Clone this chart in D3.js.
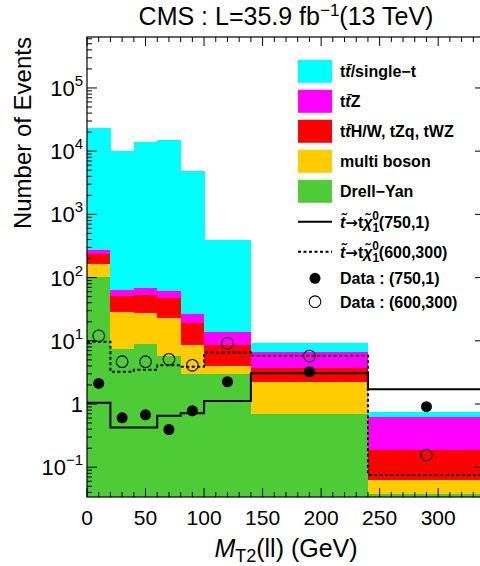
<!DOCTYPE html>
<html>
<head>
<meta charset="utf-8">
<script src="https://cdn.jsdelivr.net/npm/d3@7"></script>
<style>
  body { margin: 0; background: #fff; }
  svg { font-family: "Liberation Sans", Arial, sans-serif; }
</style>
</head>
<body>
<svg id="chart" width="480" height="566"></svg>
<script>
// --- data ---
var binEdges = [0, 20, 40, 60, 80, 100, 140, 240, 340];
var binCenters = [10, 30, 50, 70, 90, 120, 190, 290];

// stacked backgrounds, bottom to top
var drellYan   = [103, 7.6, 9.15, 5.75, 3.06, 3.0, 0.71, 0.039];
var multiBoson = [65, 21.3, 18.7, 17.5, 5.74, 1.12, 1.54, 0.024];
var ttHW       = [69, 22.7, 25.2, 24.8, 10.5, 4.5, 1.5, 0.129];
var ttZ        = [44, 13.7, 16.1, 14.1, 7.9, 5.3, 3.12, 0.452];
var ttSingleT  = [22700, 10000, 13900, 15000, 4840, 380, 2.28, 0.099];

// signal hypotheses
var sig750  = [1.045, 0.425, 0.425, 0.655, 0.713, 1.12, 3.06, 1.71];
var sig600  = [9.7, 3.24, 3.48, 4.12, 3.89, 6.52, 5.78, 0.075];

// data points
var data750 = [2.12, 0.605, 0.674, 0.395, 0.782, 2.25, 3.24, 0.909];
var data600 = [12.0, 4.68, 4.68, 5.09, 4.09, 9.15, 5.75, 0.156];

var yTicks = [0.1, 1, 10, 100, 1000, 10000, 100000];
var xTicks = [0, 50, 100, 150, 200, 250, 300];

var bgKeys = ["dy", "mb", "tth", "ttz", "tt"];
var bgColors = {dy: "#4dcc37", mb: "#ffcc00", tth: "#ff0000", ttz: "#ff00ff", tt: "#00ffff"};

// --- layout ---
var pL = 87, pR = 485, pT = 37, pB = 497;
var yMin = 0.0338, yMax = 6.4e5;
var svg = d3.select("#chart");

var x = d3.scaleLinear().domain([0, 340]).range([pL, pR]);
var y = d3.scaleLog().domain([yMin, yMax]).range([pB, pT]);

svg.append("defs").append("clipPath").attr("id", "plotclip")
  .append("rect").attr("x", pL).attr("y", pT)
  .attr("width", pR - pL).attr("height", pB - pT);

var plot = svg.append("g").attr("clip-path", "url(#plotclip)");

// build stack table
var table = binCenters.map(function(c, i) {
  return {i: i, dy: drellYan[i], mb: multiBoson[i], tth: ttHW[i], ttz: ttZ[i], tt: ttSingleT[i]};
});
var stacked = d3.stack().keys(bgKeys)(table);

stacked.forEach(function(layer) {
  plot.append("g")
    .attr("fill", bgColors[layer.key])
    .attr("shape-rendering", "crispEdges")
    .selectAll("rect")
    .data(layer)
    .enter()
    .append("rect")
      .attr("x", function(d) { return x(binEdges[d.data.i]); })
      .attr("width", function(d) { return x(binEdges[d.data.i + 1]) - x(binEdges[d.data.i]) + 0.5; })
      .attr("y", function(d) { return y(d[1]); })
      .attr("height", function(d) { return y(Math.max(d[0], yMin)) - y(d[1]) + 0.5; });
});

// signal step lines
function stepPoints(vals) {
  var pts = vals.map(function(v, i) { return [binEdges[i], v]; });
  pts.push([binEdges[binEdges.length - 1], vals[vals.length - 1]]);
  return pts;
}
var stepLine = d3.line()
  .x(function(d) { return x(d[0]); })
  .y(function(d) { return y(d[1]); })
  .curve(d3.curveStepAfter);

plot.append("path").datum(stepPoints(sig750))
  .attr("d", stepLine).attr("fill", "none")
  .attr("stroke", "#000").attr("stroke-width", 2);

plot.append("path").datum(stepPoints(sig600))
  .attr("d", stepLine).attr("fill", "none")
  .attr("stroke", "#000").attr("stroke-width", 2)
  .attr("stroke-dasharray", "3,2.5");

// data markers
plot.selectAll(".d750").data(data750).enter().append("circle")
  .attr("class", "d750")
  .attr("cx", function(d, i) { return x(binCenters[i]); })
  .attr("cy", function(d) { return y(d); })
  .attr("r", 5.5).attr("fill", "#000");

plot.selectAll(".d600").data(data600).enter().append("circle")
  .attr("class", "d600")
  .attr("cx", function(d, i) { return x(binCenters[i]); })
  .attr("cy", function(d) { return y(d); })
  .attr("r", 5.8).attr("fill", "none")
  .attr("stroke", "#000").attr("stroke-width", 1.1);

// --- frame and ticks ---
var axes = svg.append("g").attr("stroke", "#000").attr("stroke-width", 1);
axes.append("rect").attr("x", pL).attr("y", pT)
  .attr("width", pR - pL).attr("height", pB - pT)
  .attr("fill", "none").attr("stroke-width", 1.2);

var xMinor = d3.range(0, 341, 10);
xMinor.forEach(function(v) {
  var len = (v % 50 === 0) ? 9 : 5;
  axes.append("line").attr("x1", x(v)).attr("x2", x(v)).attr("y1", pB).attr("y2", pB - len);
  axes.append("line").attr("x1", x(v)).attr("x2", x(v)).attr("y1", pT).attr("y2", pT + len);
});

var yMinor = [];
for (var e = -2; e <= 5; e++) {
  for (var m = 1; m <= 9; m++) {
    var v = m * Math.pow(10, e);
    if (v >= yMin && v <= yMax) yMinor.push({v: v, major: m === 1});
  }
}
yMinor.forEach(function(t) {
  var len = t.major ? 10 : 5;
  axes.append("line").attr("x1", pL).attr("x2", pL + len).attr("y1", y(t.v)).attr("y2", y(t.v));
  axes.append("line").attr("x1", pR).attr("x2", pR - len).attr("y1", y(t.v)).attr("y2", y(t.v));
});

// x tick labels
svg.append("g").selectAll("text").data(xTicks).enter().append("text")
  .attr("x", function(d) { return x(d); })
  .attr("y", 525)
  .attr("text-anchor", "middle")
  .attr("font-size", 21)
  .text(function(d) { return d; });

// y tick labels
var yLab = svg.append("g").attr("font-size", 22).attr("text-anchor", "end");
yTicks.forEach(function(v) {
  var exp = Math.round(Math.log10(v));
  var t = yLab.append("text").attr("x", 83).attr("y", y(v) + 8);
  if (exp === 0) { t.text("1"); return; }
  t.append("tspan").text("10");
  t.append("tspan").attr("dy", -10).attr("font-size", 15)
    .text(exp < 0 ? "\u2212" + (-exp) : exp);
});

// titles
var title = svg.append("text").attr("x", (pL + pR) / 2).attr("y", 25)
  .attr("text-anchor", "middle").attr("font-size", 25);
title.append("tspan").text("CMS : L=35.9 fb");
title.append("tspan").attr("dy", -9).attr("font-size", 17).text("\u22121");
title.append("tspan").attr("dy", 9).text("(13 TeV)");

svg.append("text")
  .attr("transform", "translate(31," + pT + ") rotate(-90)")
  .attr("text-anchor", "end").attr("font-size", 24)
  .text("Number of Events");

var xt = svg.append("text").attr("x", (pL + pR) / 2).attr("y", 557)
  .attr("text-anchor", "middle").attr("font-size", 25);
xt.append("tspan").attr("font-style", "italic").text("M");
xt.append("tspan").attr("dy", 5).attr("font-size", 18).text("T2");
xt.append("tspan").attr("dy", -5).text("(ll) (GeV)");

// --- legend ---
var leg = svg.append("g").attr("font-size", 16).attr("font-weight", "bold");
var boxEntries = [
  {key: "tt", cy: 71.3},
  {key: "ttz", cy: 101.3},
  {key: "tth", cy: 131.3},
  {key: "mb", cy: 161.3},
  {key: "dy", cy: 191.3}
];
boxEntries.forEach(function(b) {
  leg.append("rect").attr("x", 298).attr("y", b.cy - 11.5)
    .attr("width", 34).attr("height", 23).attr("fill", bgColors[b.key]);
});

function ttbar(t) {
  t.append("tspan").text("t");
  t.append("tspan").attr("font-style", "italic").text("t\u0304");
}
var l1 = leg.append("text").attr("x", 340).attr("y", 71.3 + 6);
ttbar(l1); l1.append("tspan").text("/single\u2212t");
var l2 = leg.append("text").attr("x", 340).attr("y", 101.3 + 6);
ttbar(l2); l2.append("tspan").text("Z");
var l3 = leg.append("text").attr("x", 340).attr("y", 131.3 + 6);
ttbar(l3); l3.append("tspan").text("H/W, tZq, tWZ");
leg.append("text").attr("x", 340).attr("y", 161.3 + 6).text("multi boson");
leg.append("text").attr("x", 340).attr("y", 191.3 + 6).text("Drell\u2212Yan");

leg.append("line").attr("x1", 298).attr("x2", 332).attr("y1", 221.7).attr("y2", 221.7)
  .attr("stroke", "#000").attr("stroke-width", 2);
leg.append("line").attr("x1", 298).attr("x2", 332).attr("y1", 251.7).attr("y2", 251.7)
  .attr("stroke", "#000").attr("stroke-width", 2).attr("stroke-dasharray", "3,2.5");

function sigLabel(yy, mass) {
  var t = leg.append("text").attr("x", 340).attr("y", yy + 6);
  t.append("tspan").attr("font-style", "italic").text("t\u0303");
  t.append("tspan").attr("font-family", "DejaVu Sans").attr("font-size", 15).text("\u2192");
  t.append("tspan").text("t");
  t.append("tspan").attr("font-style", "italic").text("\u03c7\u0303");
  t.append("tspan").attr("dy", 4).attr("font-size", 12).text("1");
  t.append("tspan").attr("dx", -7).attr("dy", -12).attr("font-size", 12).text("0");
  t.append("tspan").attr("dy", 8).text(mass);
}
sigLabel(221.7, "(750,1)");
sigLabel(251.7, "(600,300)");

leg.append("circle").attr("cx", 315).attr("cy", 278.3).attr("r", 5.5).attr("fill", "#000");
leg.append("circle").attr("cx", 315).attr("cy", 301.7).attr("r", 5.8)
  .attr("fill", "none").attr("stroke", "#000").attr("stroke-width", 1.1);
leg.append("text").attr("x", 340).attr("y", 278.3 + 6).text("Data : (750,1)");
leg.append("text").attr("x", 340).attr("y", 301.7 + 6).text("Data : (600,300)");
</script>
</body>
</html>
